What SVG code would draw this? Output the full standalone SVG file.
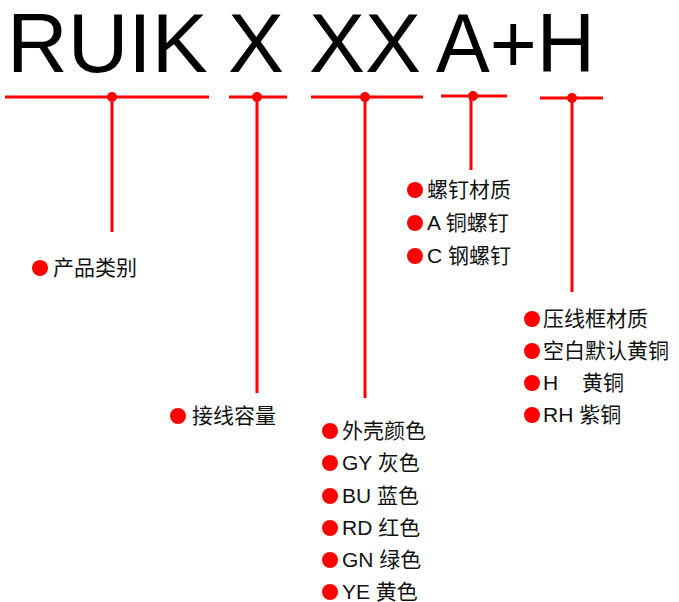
<svg xmlns="http://www.w3.org/2000/svg" width="679" height="602" viewBox="0 0 679 602">
<style>
.title{font-family:"Liberation Sans",Arial,sans-serif;font-size:84px;fill:#000}
.ln{stroke:#ff0000;stroke-width:3;fill:none}
.dot{fill:#ff0000}
.bul{fill:#ff0000}
.lb{font-family:"Liberation Sans","Noto Sans CJK SC",sans-serif;font-size:21px;fill:#111}
</style>
<rect width="679" height="602" fill="#fff"/>
<g id="title"><text class="title" y="72"><tspan x="7">RUIK</tspan> <tspan x="228">X</tspan> <tspan x="309">XX</tspan> <tspan x="436" textLength="159" lengthAdjust="spacingAndGlyphs">A+H</tspan></text></g>
<g id="connectors">
<line class="ln" x1="5" y1="97" x2="209" y2="97"/>
<line class="ln" x1="112" y1="97" x2="112" y2="232"/>
<circle class="dot" cx="112" cy="97" r="5"/>
<line class="ln" x1="229" y1="97" x2="287" y2="97"/>
<line class="ln" x1="257" y1="97" x2="257" y2="393"/>
<circle class="dot" cx="257" cy="97" r="5"/>
<line class="ln" x1="311" y1="97" x2="423" y2="97"/>
<line class="ln" x1="365" y1="97" x2="365" y2="398"/>
<circle class="dot" cx="365" cy="97" r="5"/>
<line class="ln" x1="441" y1="96" x2="507" y2="96"/>
<line class="ln" x1="471" y1="96" x2="471" y2="170"/>
<circle class="dot" cx="473" cy="96" r="5"/>
<line class="ln" x1="540" y1="98" x2="603" y2="98"/>
<line class="ln" x1="572" y1="98" x2="572" y2="292"/>
<circle class="dot" cx="572" cy="98" r="5"/>
</g>
<g id="n-category">
<circle class="bul" cx="40" cy="268" r="8"/>
<text class="lb" x="53" y="275">产品类别</text>
</g>
<g id="n-capacity">
<circle class="bul" cx="178" cy="416" r="8"/>
<text class="lb" x="192" y="423">接线容量</text>
</g>
<g id="n-color">
<circle class="bul" cx="330" cy="431" r="8"/><text class="lb" x="342" y="438">外壳颜色</text>
<circle class="bul" cx="330" cy="463" r="8"/><text class="lb" x="342" y="470">GY 灰色</text>
<circle class="bul" cx="330" cy="496" r="8"/><text class="lb" x="342" y="503">BU 蓝色</text>
<circle class="bul" cx="330" cy="528" r="8"/><text class="lb" x="342" y="535">RD 红色</text>
<circle class="bul" cx="330" cy="560" r="8"/><text class="lb" x="342" y="567">GN 绿色</text>
<circle class="bul" cx="330" cy="592" r="8"/><text class="lb" x="342" y="599">YE 黄色</text>
</g>
<g id="n-screw">
<circle class="bul" cx="415" cy="190" r="8"/><text class="lb" x="427" y="197">螺钉材质</text>
<circle class="bul" cx="415" cy="223" r="8"/><text class="lb" x="427" y="230">A 铜螺钉</text>
<circle class="bul" cx="415" cy="256" r="8"/><text class="lb" x="427" y="263">C 钢螺钉</text>
</g>
<g id="n-frame">
<circle class="bul" cx="532" cy="319" r="8"/><text class="lb" x="543" y="326">压线框材质</text>
<circle class="bul" cx="532" cy="351" r="8"/><text class="lb" x="543" y="358">空白默认黄铜</text>
<circle class="bul" cx="532" cy="383" r="8"/><text class="lb" x="543" y="390">H <tspan x="582">黄铜</tspan></text>
<circle class="bul" cx="532" cy="415" r="8"/><text class="lb" x="543" y="422">RH 紫铜</text>
</g>
</svg>
